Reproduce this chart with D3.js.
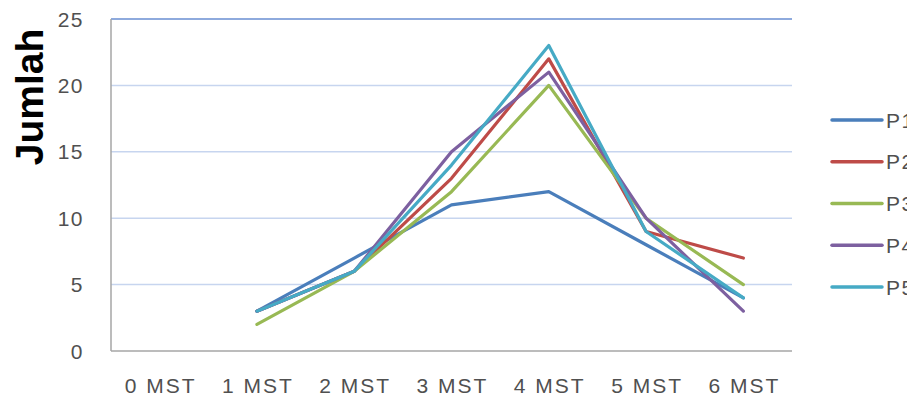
<!DOCTYPE html>
<html>
<head>
<meta charset="utf-8">
<script src="https://cdn.jsdelivr.net/npm/d3@7"></script>
<style>
html,body{margin:0;padding:0;background:#fff;}
svg{display:block;}
text{font-family:"Liberation Sans",Arial,sans-serif;}
</style>
</head>
<body>
<svg id="chart" width="907" height="399"></svg>
<script>
const categories = ["0 MST","1 MST","2 MST","3 MST","4 MST","5 MST","6 MST"];
const seriesNames = ["P1","P2","P3","P4","P5"];
const P1 = [null, 3, 7, 11, 12, 8, 4];
const P2 = [null, 3, 6, 13, 22, 9, 7];
const P3 = [null, 2, 6, 12, 20, 10, 5];
const P4 = [null, 3, 6, 15, 21, 10, 3];
const P5 = [null, 3, 6, 14, 23, 9, 4];
const yTicks = [0, 5, 10, 15, 20, 25];
const colors = ["#4a7ebb", "#be4b48", "#98b954", "#7d60a0", "#46aac5"];
const series = [P1, P2, P3, P4, P5];

const svg = d3.select("#chart");
const pLeft = 111, pRight = 792, pTop = 19, pBottom = 351;

const x = d3.scaleBand().domain(categories).range([pLeft, pRight]);
const y = d3.scaleLinear().domain([0, 25]).range([pBottom, pTop]);
const cx = c => x(c) + x.bandwidth() / 2;

// gridlines
svg.append("g").selectAll("line")
  .data(yTicks.filter(t => t > 0))
  .join("line")
  .attr("x1", pLeft).attr("x2", pRight)
  .attr("y1", d => y(d)).attr("y2", d => y(d))
  .attr("stroke", d => d === 25 ? "#8eaadd" : "#c7d5ef")
  .attr("stroke-width", d => d === 25 ? 2 : 1.5);

// axes lines
svg.append("line").attr("x1", pLeft).attr("x2", pLeft).attr("y1", pTop).attr("y2", pBottom)
  .attr("stroke", "#a6a6a6").attr("stroke-width", 1.5);
svg.append("line").attr("x1", pLeft).attr("x2", pRight).attr("y1", pBottom).attr("y2", pBottom)
  .attr("stroke", "#a6a6a6").attr("stroke-width", 1.5);

// y tick labels
svg.append("g").selectAll("text")
  .data(yTicks)
  .join("text")
  .attr("x", 84)
  .attr("y", d => y(d))
  .attr("dy", "0.36em")
  .attr("text-anchor", "end")
  .attr("font-size", 21)
  .attr("letter-spacing", 1.5)
  .attr("fill", "#505050")
  .text(d => d);

// x tick labels
svg.append("g").selectAll("text")
  .data(categories)
  .join("text")
  .attr("x", d => cx(d) + 1)
  .attr("y", 393)
  .attr("text-anchor", "middle")
  .attr("font-size", 21)
  .attr("letter-spacing", 2)
  .attr("fill", "#505050")
  .text(d => d);

// y axis title
svg.append("text")
  .attr("transform", "translate(43,97) rotate(-90)")
  .attr("text-anchor", "middle")
  .attr("font-size", 39)
  .attr("font-weight", "bold")
  .attr("fill", "#000")
  .text("Jumlah");

// lines
const line = d3.line()
  .defined(d => d.v !== null)
  .x(d => cx(d.c))
  .y(d => y(d.v));

series.forEach((s, i) => {
  svg.append("path")
    .datum(s.map((v, j) => ({c: categories[j], v: v})))
    .attr("d", line)
    .attr("fill", "none")
    .attr("stroke", colors[i])
    .attr("stroke-width", 3.2)
    .attr("stroke-linejoin", "round")
    .attr("stroke-linecap", "round");
});

// legend
const legendY = d3.scalePoint().domain(seriesNames).range([120, 287]);
const lg = svg.append("g");
seriesNames.forEach((n, i) => {
  lg.append("line")
    .attr("x1", 832).attr("x2", 882)
    .attr("y1", legendY(n)).attr("y2", legendY(n))
    .attr("stroke", colors[i]).attr("stroke-width", 3.5)
    .attr("stroke-linecap", "round");
  lg.append("text")
    .attr("x", 886).attr("y", legendY(n))
    .attr("dy", "0.36em")
    .attr("font-size", 21)
    .attr("letter-spacing", 1.5)
    .attr("fill", "#505050")
    .text(n);
});
</script>
</body>
</html>
